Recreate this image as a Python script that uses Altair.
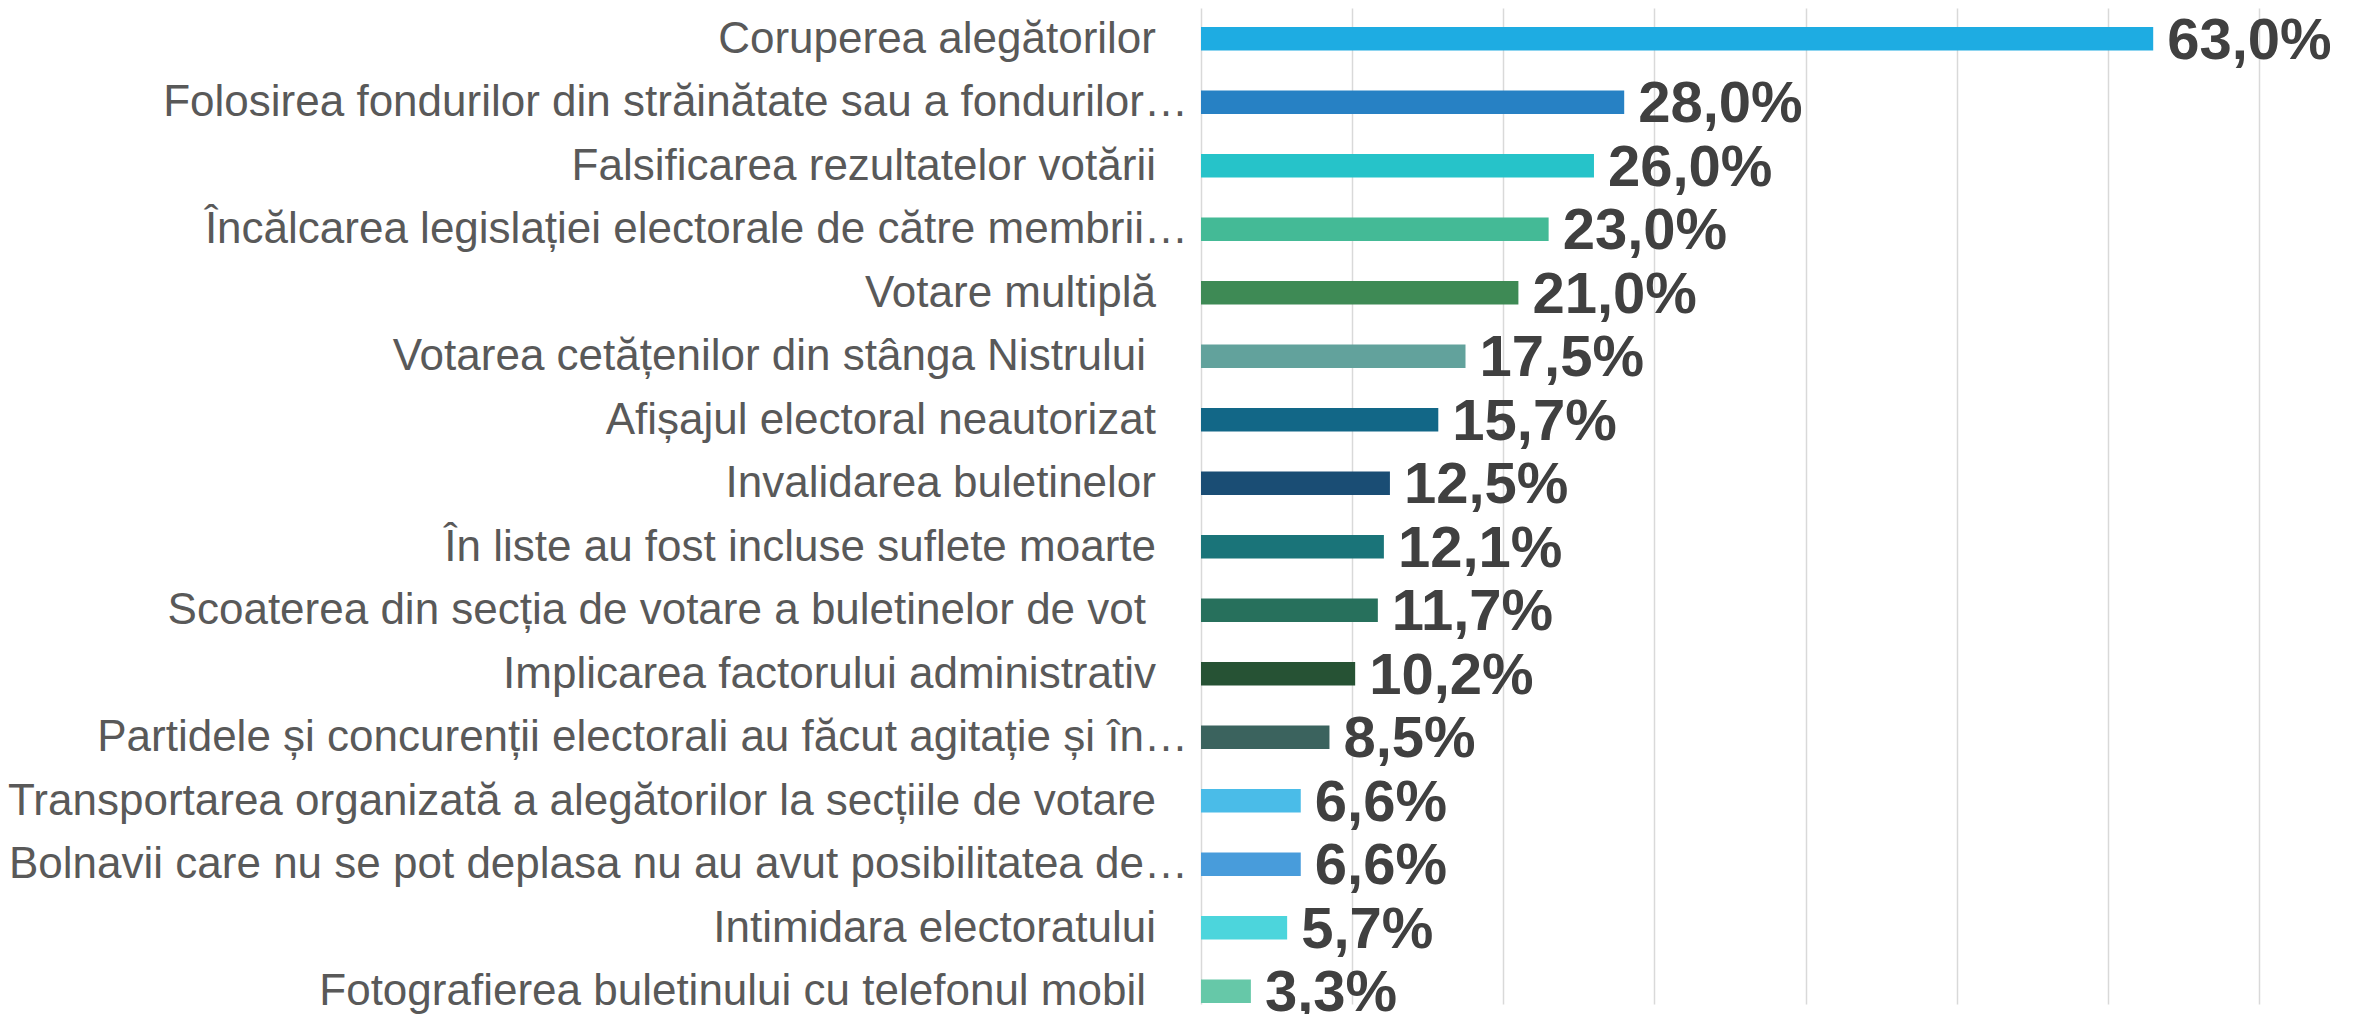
import altair as alt
import pandas as pd

categories = [
    "Coruperea alegătorilor",
    "Folosirea fondurilor din străinătate sau a fondurilor…",
    "Falsificarea rezultatelor votării",
    "Încălcarea legislației electorale de către membrii…",
    "Votare multiplă",
    "Votarea cetățenilor din stânga Nistrului ",
    "Afișajul electoral neautorizat",
    "Invalidarea buletinelor",
    "În liste au fost incluse suflete moarte",
    "Scoaterea din secția de votare a buletinelor de vot ",
    "Implicarea factorului administrativ",
    "Partidele și concurenții electorali au făcut agitație și în…",
    "Transportarea organizată a alegătorilor la secțiile de votare",
    "Bolnavii care nu se pot deplasa nu au avut posibilitatea de…",
    "Intimidara electoratului",
    "Fotografierea buletinului cu telefonul mobil ",
]
values = [63.0, 28.0, 26.0, 23.0, 21.0, 17.5, 15.7, 12.5, 12.1, 11.7, 10.2, 8.5, 6.6, 6.6, 5.7, 3.3]
colors = [
    "#1EACE2", "#2781C4", "#26C3C9", "#44BA96", "#3E8A55", "#62A29C",
    "#126787", "#1A4D74", "#1A7479", "#27705C", "#265234", "#3B635E",
    "#4ABCE8", "#489CDB", "#4CD5DC", "#66C8A8",
]


def kind(s):
    # Excel-style label gap: truncated labels sit close to the axis,
    # labels with a trailing space sit a little further away
    if s.endswith("…"):
        return "trunc"
    if s.endswith(" "):
        return "space"
    return "plain"


df = pd.DataFrame({
    "cat": categories,
    "name": [c.rstrip() for c in categories],
    "kind": [kind(c) for c in categories],
    "value": values,
})

x_scale = alt.Scale(domain=[0, 70], nice=False)
y_scale = alt.Scale(paddingInner=0.63, paddingOuter=0.1575, align=0.95)

y_enc = alt.Y("cat:N", sort=categories, title=None, scale=y_scale, axis=None)

x_enc = alt.X(
    "value:Q",
    title=None,
    scale=x_scale,
    axis=alt.Axis(
        grid=True,
        labels=False,
        ticks=False,
        domain=False,
        values=[0, 10, 20, 30, 40, 50, 60, 70],
        gridColor="#d9d9d9",
        gridWidth=1.5,
    ),
)

base = alt.Chart(df)

bars = base.mark_bar().encode(
    x=x_enc,
    y=y_enc,
    color=alt.Color("cat:N", scale=alt.Scale(domain=categories, range=colors), legend=None),
)

values_text = base.transform_calculate(
    lbl="replace(format(datum.value, '.1f'), '.', ',') + '%'"
).mark_text(
    align="left",
    baseline="middle",
    dx=14,
    dy=3,
    font="Liberation Sans",
    fontSize=58,
    fontWeight="bold",
    color="#404040",
).encode(
    x=alt.X("value:Q", scale=x_scale),
    y=alt.Y("cat:N", sort=categories),
    text="lbl:N",
)


def cat_labels(k, gap):
    return base.transform_filter(alt.datum.kind == k).mark_text(
        align="right",
        baseline="middle",
        dx=-gap,
        dy=1,
        font="Liberation Sans",
        fontSize=44,
        color="#595959",
    ).encode(
        x=alt.datum(0),
        y=alt.Y("cat:N", sort=categories),
        text="name:N",
    )


chart = (
    alt.layer(
        bars,
        values_text,
        cat_labels("trunc", 13),
        cat_labels("plain", 45),
        cat_labels("space", 55),
    )
    .properties(
        width=1058,
        height=996,
        autosize=alt.AutoSizeParams(type="none"),
        padding={"left": 1193, "top": 0, "right": 87, "bottom": 10},
    )
    .configure_view(stroke=None)
)

chart.save("out.html", embed_options={"renderer": "svg", "actions": False})
